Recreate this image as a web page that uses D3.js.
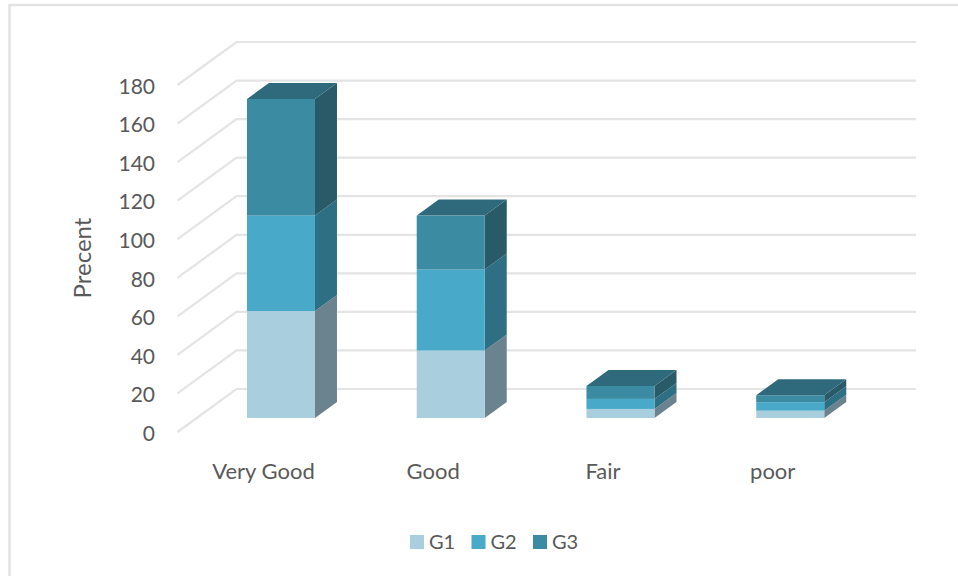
<!DOCTYPE html>
<html>
<head>
<meta charset="utf-8">
<style>
html,body{margin:0;padding:0;background:#fff;}
svg{display:block;}
text{font-family:"Lato","Open Sans",sans-serif;fill:#595959;}
</style>
<script src="https://cdn.jsdelivr.net/npm/d3@7/dist/d3.min.js"></script>
</head>
<body>
<svg id="chart" width="958" height="576"></svg>
<script>
// Survey ratings, stacked by group
const categories = ["Very Good", "Good", "Fair", "poor"];
const seriesNames = ["G1", "G2", "G3"];
const g1Values = [55.5, 35, 4.7, 3.8];
const g2Values = [49.5, 42, 5.2, 4.4];
const g3Values = [60.5, 28, 6.7, 3.6];
const yTicks = [0, 20, 40, 60, 80, 100, 120, 140, 160, 180];

const frontColors = ["#a9cedd", "#48aac8", "#3b8ba3"];
const sideColors = ["#6b838e", "#2f6f83", "#285a68"];
const topColor = "#2f6a7c";
const gridColor = "#e4e4e4";

const svg = d3.select("#chart");

// Outer frame of the chart area
svg.append("path")
  .attr("d", "M9.5,576V5H958")
  .attr("fill", "none").attr("stroke", "#e2e2e2").attr("stroke-width", 2.5);

// Value scale on the front plane of the box; walls are offset by the depth
const y = d3.scaleLinear().domain([0, 180]).range([432, 85]);
const x = d3.scaleBand().domain(categories).range([177.5, 856.5]).paddingInner(0).paddingOuter(0);

const wallDepth = { dx: 59, dy: -43 };
const barInset = { dx: 14, dy: -14 };   // bar front sits just behind the front edge of the floor
const barDepth = { dx: 22, dy: -16 };
const barWidth = 68;
const gridRight = 916;

// Gridlines: a slanted side-wall segment followed by the back-wall line
svg.append("g").selectAll("path").data(yTicks).join("path")
  .attr("d", t => `M${x.range()[0]},${y(t)}L${x.range()[0] + wallDepth.dx},${y(t) + wallDepth.dy}H${gridRight}`)
  .attr("fill", "none").attr("stroke", gridColor).attr("stroke-width", 2.2);

// Tick labels
const axis = d3.axisLeft(y).tickValues(yTicks).tickSize(0).tickPadding(0);
const axisG = svg.append("g").attr("transform", "translate(155,1.5)").call(axis);
axisG.select(".domain").remove();
axisG.selectAll("text").attr("font-size", 21).attr("text-anchor", "end").attr("font-family", "Lato").style("fill", "#595959");

// Stack the three groups for each category
const rows = categories.map((c, i) => ({ category: c, G1: g1Values[i], G2: g2Values[i], G3: g3Values[i] }));
const stacked = d3.stack().keys(seriesNames)(rows);

const barLeft = c => x(c) + (x.bandwidth() - barWidth) / 2 + barInset.dx + 4.6;
const pts = a => a.map(p => p.join(",")).join(" ");

const bars = svg.append("g");
stacked.forEach((layer, s) => {
  layer.forEach((d, i) => {
    const c = categories[i];
    const x0 = barLeft(c), x1 = x0 + barWidth;
    const yB = y(d[0]) + barInset.dy, yT = y(d[1]) + barInset.dy;
    // side face
    bars.append("polygon")
      .attr("points", pts([[x1, yB], [x1 + barDepth.dx, yB + barDepth.dy], [x1 + barDepth.dx, yT + barDepth.dy], [x1, yT]]))
      .attr("fill", sideColors[s]);
    // front face
    bars.append("rect")
      .attr("x", x0).attr("y", yT).attr("width", barWidth).attr("height", yB - yT)
      .attr("fill", frontColors[s]);
    // top face on the uppermost segment only
    if (s === seriesNames.length - 1) {
      bars.append("polygon")
        .attr("points", pts([[x0, yT], [x1, yT], [x1 + barDepth.dx, yT + barDepth.dy], [x0 + barDepth.dx, yT + barDepth.dy]]))
        .attr("fill", topColor);
    }
  });
});

// Category labels
svg.append("g").selectAll("text").data(categories).join("text")
  .attr("x", c => barLeft(c) + 16.5)
  .attr("y", 479)
  .attr("text-anchor", "middle")
  .attr("font-size", 22)
  .text(c => c);

// Axis title
svg.append("text")
  .attr("transform", "translate(91,258) rotate(-90)")
  .attr("text-anchor", "middle")
  .attr("font-size", 24)
  .text("Precent");

// Legend
const legendX = d3.scalePoint().domain(seriesNames).range([410, 533]);
const legend = svg.append("g").selectAll("g").data(seriesNames).join("g")
  .attr("transform", d => `translate(${legendX(d)},535)`);
legend.append("rect").attr("width", 14).attr("height", 14)
  .attr("fill", (d, i) => frontColors[i]);
legend.append("text").attr("x", 19).attr("y", 14).attr("font-size", 20).text(d => d);
</script>
</body>
</html>
